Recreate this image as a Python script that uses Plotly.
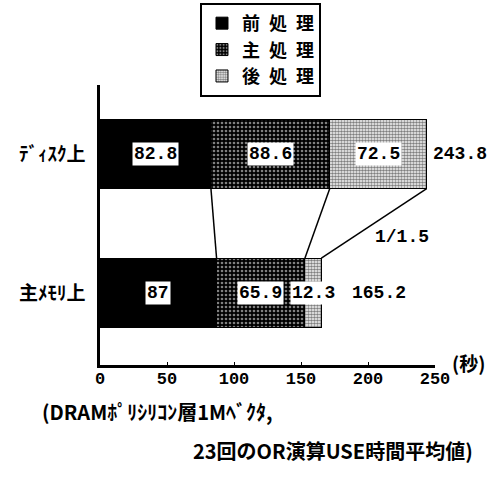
import plotly.graph_objects as go

categories = ["主ﾒﾓﾘ上", "ﾃﾞｨｽｸ上"]
series_names = ["前\u2002処\u2002理", "主\u2002処\u2002理", "後\u2002処\u2002理"]
pre_vals = [87.0, 82.8]
main_vals = [65.9, 88.6]
post_vals = [12.3, 72.5]
totals = [165.2, 243.8]
ratio_label = "1/1.5"
x_ticks = [0, 50, 100, 150, 200, 250]

ypos = [0, 1]
BW = 0.5
JP = "Noto Sans CJK JP"
MONO = "Liberation Mono"

fig = go.Figure()
patterns = [
    None,
    dict(shape=".", fgcolor="white", bgcolor="black", size=4, solidity=0.35),
    dict(shape=".", fgcolor="black", bgcolor="white", size=3, solidity=0.6),
]
colors = ["black", "#333333", "#888888"]
for name, vals, pat, col in zip(series_names, [pre_vals, main_vals, post_vals], patterns, colors):
    m = dict(color=col, line=dict(color="black", width=1))
    if pat:
        m["pattern"] = pat
    fig.add_trace(go.Bar(y=ypos, x=vals, orientation="h", name=name, width=BW,
                         marker=m, hoverinfo="skip"))

annotations = []
for i, y in enumerate(ypos):
    starts = [0, pre_vals[i], pre_vals[i] + main_vals[i]]
    for s, v in zip(starts, [pre_vals[i], main_vals[i], post_vals[i]]):
        annotations.append(dict(x=s + v / 2, y=y, text=f"{v:g}", showarrow=False,
                                font=dict(family=MONO, size=18, color="black", weight="bold"),
                                bgcolor="white", borderpad=1))
    annotations.append(dict(x=totals[i], y=y, text=f"{totals[i]:g}", showarrow=False,
                            xanchor="left", xshift=4 if i == 1 else 29,
                            font=dict(family=MONO, size=18, color="black", weight="bold")))

annotations.append(dict(x=225, y=0.4, text=ratio_label, showarrow=False,
                        font=dict(family=MONO, size=18, color="black", weight="bold")))
annotations.append(dict(xref="paper", yref="paper", x=1.045, y=0.01, text="(秒)", showarrow=False,
                        xanchor="left", yanchor="middle",
                        font=dict(family=JP, size=19, color="black", weight="bold")))
annotations.append(dict(xref="paper", yref="paper", x=-0.18, y=-0.165, text="(DRAMﾎﾟﾘｼﾘｺﾝ層1Mﾍﾞｸﾀ,",
                        showarrow=False, xanchor="left", yanchor="middle",
                        font=dict(family=JP, size=20, color="black", weight="bold")))
annotations.append(dict(xref="paper", yref="paper", x=1.12, y=-0.305, text="23回のOR演算USE時間平均値)",
                        showarrow=False, xanchor="right", yanchor="middle",
                        font=dict(family=JP, size=20, color="black", weight="bold")))

shapes = []
disk_edges = [pre_vals[1], pre_vals[1] + main_vals[1], totals[1]]
mem_edges = [pre_vals[0], pre_vals[0] + main_vals[0], totals[0]]
for a, b in zip(disk_edges, mem_edges):
    shapes.append(dict(type="line", x0=a, y0=1 - BW / 2, x1=b, y1=BW / 2,
                       line=dict(color="black", width=1.5)))

fig.update_layout(
    width=501, height=478,
    margin=dict(l=100, r=66, t=85, b=113, autoexpand=False),
    plot_bgcolor="white", paper_bgcolor="white",
    barmode="stack",
    showlegend=True,
    legend=dict(x=0.2985, y=1.293, xanchor="left", yanchor="top",
                bordercolor="black", borderwidth=2, bgcolor="white",
                font=dict(family=JP, size=18, color="black", weight="bold"),
                traceorder="normal", itemwidth=30),
    xaxis=dict(range=[0, 250], tickvals=x_ticks, showgrid=False, zeroline=False,
               showline=True, linecolor="black", linewidth=2.5,
               ticks="inside", ticklen=3, tickcolor="black", ticklabelstandoff=-4,
               tickfont=dict(family=MONO, size=17, color="black", weight="bold")),
    yaxis=dict(range=[-0.518, 1.496], tickvals=ypos, ticktext=categories,
               showgrid=False, zeroline=False, showline=True, linecolor="black", linewidth=2.5,
               ticks="", ticklabelstandoff=8,
               tickfont=dict(family=JP, size=19, color="black", weight="bold")),
    annotations=annotations,
    shapes=shapes,
)

fig.write_html("out.html", config={"displayModeBar": False},
               post_script="document.body.style.margin='0';")
